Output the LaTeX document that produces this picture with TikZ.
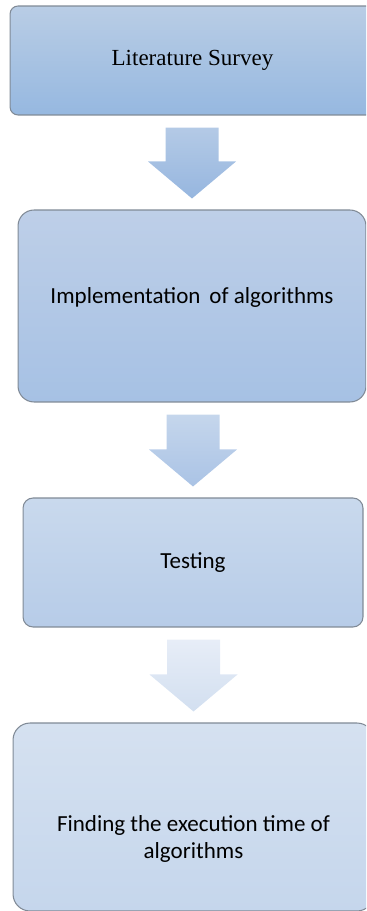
\documentclass[tikz,border=0pt]{standalone}
\usepackage{fontspec}
\setmainfont{Carlito}
\newfontfamily\timesfont{Liberation Serif}
\usetikzlibrary{calc}
\definecolor{boxline}{RGB}{128,138,150}
\definecolor{litT}{RGB}{185,205,229}\definecolor{litB}{RGB}{150,184,224}
\definecolor{implT}{RGB}{190,207,232}\definecolor{implB}{RGB}{166,193,228}
\definecolor{testT}{RGB}{201,217,237}\definecolor{testB}{RGB}{183,204,232}
\definecolor{findT}{RGB}{213,225,240}\definecolor{findB}{RGB}{197,214,236}
\definecolor{arrAT}{RGB}{180,202,230}\definecolor{arrAB}{RGB}{150,182,223}
\definecolor{arrBT}{RGB}{197,214,236}\definecolor{arrBB}{RGB}{170,195,229}
\definecolor{arrCT}{RGB}{231,237,247}\definecolor{arrCB}{RGB}{210,223,240}
\tikzset{stage/.style={draw=boxline,line width=.6pt,inner sep=0pt,font=\fontsize{13.1}{15.9}\selectfont,align=center},
  flow/.style={draw=none}}
% block arrow from the bottom of #1 to the top of #2
\newcommand{\flowarrow}[3]{\path[flow,#3]($(#2.north |- #1.south)+(-26.5,12)$)--($(#2.north |- #1.south)+(26.5,12)$)--($(#2.north)+(26.5,-48)$)--($(#2.north)+(44,-48)$)--($(#2.north)+(0,-11)$)--($(#2.north)+(-44,-48)$)--($(#2.north)+(-26.5,-48)$)--cycle;}
\begin{document}
\begin{tikzpicture}[x=.02cm,y=-.02cm]
\useasboundingbox(0,0)rectangle(366,911);\clip(0,0)rectangle(366,911);
\node[stage,rounded corners=.16cm,minimum width=7.3cm,minimum height=2.18cm,top color=litT,bottom color=litB](lit)at(192.5,60.5){\timesfont Literature Survey};
\node[stage,rounded corners=.32cm,minimum width=6.96cm,minimum height=3.84cm,top color=implT,bottom color=implB](impl)at(192,306){};
\node(impltxt)at($(impl.center)+(0,-9)$)[font=\fontsize{13.1}{15.9}\selectfont]{Implementation\, of algorithms};
\node[stage,rounded corners=.2cm,minimum width=6.8cm,minimum height=2.58cm,top color=testT,bottom color=testB](test)at(193,562.5){Testing};
\node[stage,rounded corners=.34cm,minimum width=7.22cm,minimum height=3.76cm,top color=findT,bottom color=findB](find)at(193.5,817){};
\node(findtxt)at($(find.center)+(0,22)$)[font=\fontsize{13.1}{15.9}\selectfont,align=center]{Finding the execution time of\\algorithms};
\flowarrow{lit}{impl}{top color=arrAT,bottom color=arrAB}
\flowarrow{impl}{test}{top color=arrBT,bottom color=arrBB}
\flowarrow{test}{find}{top color=arrCT,bottom color=arrCB}
\end{tikzpicture}
\end{document}
